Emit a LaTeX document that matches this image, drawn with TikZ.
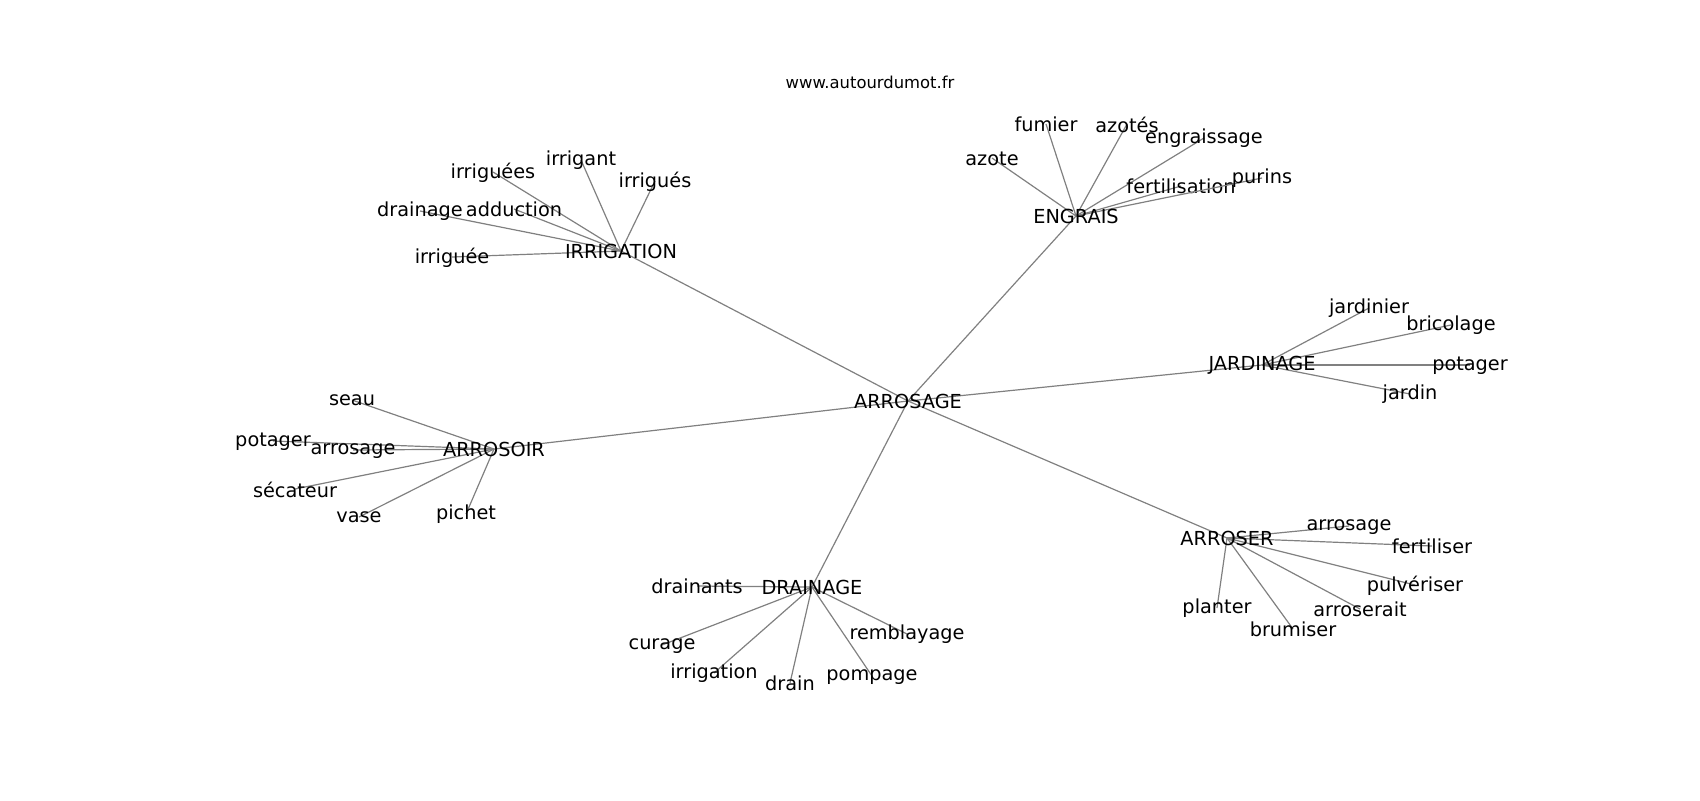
\documentclass[tikz,border=0pt]{standalone}
\usepackage{fontspec}
\setmainfont{DejaVu Sans}
\usetikzlibrary{positioning,calc}

\begin{document}
\begin{tikzpicture}[x=0.5pt,y=-0.5pt,
    edge/.style={draw=gray, line width=0.6pt},
    word/.style={font=\fontsize{9.65}{11}\selectfont, inner sep=0pt, yshift=-0.3pt},
    title/.style={font=\fontsize{8.2}{10}\selectfont, inner sep=0pt}]
                    \useasboundingbox (0,0) rectangle (1700,800);
                    \node[title] (site) at (870,82) {www.autourdumot.fr};

                    % centre and hubs
                    \coordinate (C) at (908,401);
                    \coordinate (IRR) at (621,251);
                    \coordinate (ENG) at (1076,216);
                    \coordinate (JAR) at (1262,365);
                    \coordinate (ARS) at (1227,538);
                    \coordinate (DRA) at (812,587);
                    \coordinate (ARO) at (494,449);

                    \foreach \h in {IRR, ENG, JAR, ARS, DRA, ARO}
                    \draw[edge] (C) -- (\h);

                    \foreach \i/\x/\y/\t in {1/493/172/irriguées, 2/581/160/irrigant,
                        3/655/181/irrigués, 4/420/211/drainage, 5/514/209/adduction,
                        6/452/257/irriguée}
                    {
                    \coordinate (I\i) at (\x,\y);
                    \draw[edge] (IRR) -- (I\i);
                    \node[word] at (I\i) {\t};
                    }

                    \foreach \i/\x/\y/\t in {1/1046/124/fumier, 2/1127/124/azotés,
                        3/1204/138/engraissage, 4/992/158/azote, 5/1181/186/fertilisation,
                        6/1262/178/purins}
                    {
                    \coordinate (E\i) at (\x,\y);
                    \draw[edge] (ENG) -- (E\i);
                    \node[word] at (E\i) {\t};
                    }

                    \foreach \i/\x/\y/\t in {1/1369/308/jardinier, 2/1451/325/bricolage,
                        3/1470/365/potager, 4/1410/394/jardin}
                    {
                    \coordinate (J\i) at (\x,\y);
                    \draw[edge] (JAR) -- (J\i);
                    \node[word] at (J\i) {\t};
                    }

                    \foreach \i/\x/\y/\t in {1/1349/526/arrosage, 2/1432/546/fertiliser,
                        3/1415/585/pulvériser, 4/1360/609/arroserait, 5/1293/629/brumiser,
                        6/1217/608/planter}
                    {
                    \coordinate (S\i) at (\x,\y);
                    \draw[edge] (ARS) -- (S\i);
                    \node[word] at (S\i) {\t};
                    }

                    \foreach \i/\x/\y/\t in {1/697/586/drainants, 2/662/645/curage,
                        3/714/673/irrigation, 4/790/683/drain, 5/872/676/pompage,
                        6/907/634/remblayage}
                    {
                    \coordinate (D\i) at (\x,\y);
                    \draw[edge] (DRA) -- (D\i);
                    \node[word] at (D\i) {\t};
                    }

                    \foreach \i/\x/\y/\t in {1/352/400/seau, 2/273/441/potager,
                        3/353/450/arrosage, 4/295/489/sécateur, 5/359/517/vase,
                        6/466/514/pichet}
                    {
                    \coordinate (R\i) at (\x,\y);
                    \draw[edge] (ARO) -- (R\i);
                    \node[word] at (R\i) {\t};
                    }

                    \node[word] at (C) {ARROSAGE};
                    \node[word] at (IRR) {IRRIGATION};
                    \node[word] at (ENG) {ENGRAIS};
                    \node[word] at (JAR) {JARDINAGE};
                    \node[word] at (ARS) {ARROSER};
                    \node[word] at (DRA) {DRAINAGE};
                    \node[word] at (ARO) {ARROSOIR};
                \end{tikzpicture}
\end{document}
